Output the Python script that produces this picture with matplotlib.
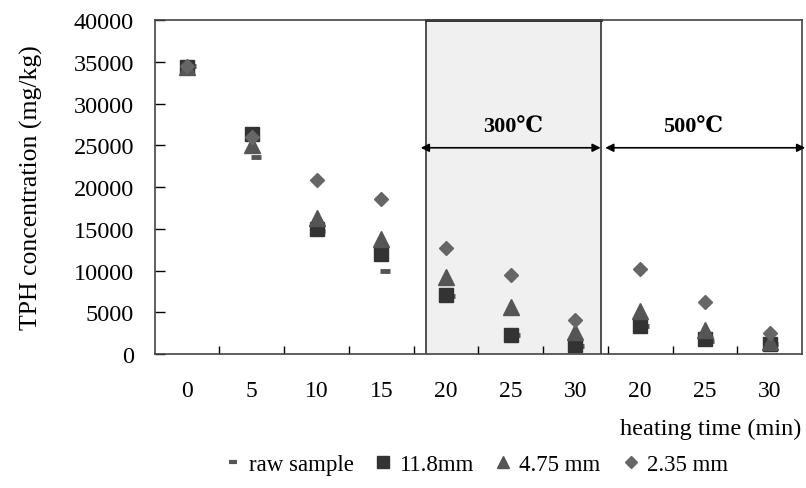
import numpy as np
import matplotlib.pyplot as plt
from matplotlib.lines import Line2D

plt.rcParams['font.family'] = ['Liberation Serif', 'DejaVu Serif']

# ---- data ----
tick_labels = ['0', '5', '10', '15', '20', '25', '30', '20', '25', '30']
raw_sample = [34500, 23600, 14700, 10000, 7000, 2300, 1000, 3400, 1600, 1200]
mm_11_8 = [34400, 26400, 15000, 12000, 7100, 2300, 1100, 3400, 1800, 1200]
mm_4_75 = [34400, 25000, 16300, 13800, 9200, 5600, 2600, 5200, 2900, 1400]
mm_2_35 = [34500, 26000, 20900, 18600, 12700, 9500, 4100, 10200, 6200, 2500]
zones = ['300℃', '500℃']

x = np.arange(len(tick_labels))

fig = plt.figure(figsize=(8.06, 4.89), dpi=100)
ax = fig.add_axes([0.192, 0.274, 0.803, 0.683])

# shaded 300C region
ax.axvspan(3.69, 6.39, color='#f0f0f0', zorder=0)
ax.axvline(3.69, color='#333333', lw=1.2, zorder=1)
ax.axvline(6.39, color='#333333', lw=1.2, zorder=1)
ax.plot([3.69, 6.39], [40000, 40000], color='#222222', lw=2, zorder=1, clip_on=False)

ax.plot(x + 0.06, raw_sample, ls='none', marker='_', ms=7, mew=3.5, color='#555555', zorder=3)
ax.plot(x, mm_11_8, ls='none', marker='s', ms=9.5, color='#333333', zorder=3)
ax.plot(x, mm_4_75, ls='none', marker='^', ms=11, color='#555555', zorder=3)
ax.plot(x, mm_2_35, ls='none', marker='D', ms=7, color='#666666', zorder=3)

# temperature zone arrows
arr = dict(arrowstyle='<|-|>', color='black', lw=1.2, mutation_scale=12, shrinkA=0, shrinkB=0)
ax.annotate('', xy=(3.61, 24700), xytext=(6.39, 24700), arrowprops=arr)
ax.annotate('', xy=(6.46, 24700), xytext=(9.55, 24700), arrowprops=arr, annotation_clip=False)
ax.text(5.04, 27200, zones[0], ha='center', va='center', fontsize=16, fontweight='bold')
ax.text(7.82, 27200, zones[1], ha='center', va='center', fontsize=16, fontweight='bold')

ax.set_xlim(-0.5, 9.5)
ax.set_ylim(0, 40000)
ax.set_yticks(np.arange(0, 40001, 5000))
ax.set_xticks(x)
ax.set_xticklabels(tick_labels)
ax.set_xticks(np.arange(0.5, 9, 1), minor=True)
ax.tick_params(axis='x', which='major', length=0, pad=19, labelsize=17)
ax.tick_params(axis='x', which='minor', direction='in', length=6, width=1)
ax.tick_params(axis='y', direction='in', length=7, width=1, pad=15, labelsize=17.5)
for s in ax.spines.values():
    s.set_color('#444444')
    s.set_linewidth(1.2)

ax.set_ylabel('TPH concentration (mg/kg)', fontsize=18.5, labelpad=22)
fig.text(0.994, 0.121, 'heating time (min)', ha='right', va='center', fontsize=17.5)

handles = [
    Line2D([], [], ls='none', marker='_', ms=6, mew=3, color='#555555'),
    Line2D([], [], ls='none', marker='s', ms=8, color='#333333'),
    Line2D([], [], ls='none', marker='^', ms=9, color='#555555'),
    Line2D([], [], ls='none', marker='D', ms=6, color='#666666'),
]
fig.legend(handles, ['raw sample', '11.8mm', '4.75 mm', '2.35 mm'], loc='center',
           bbox_to_anchor=(0.59, 0.048), ncol=4, frameon=False, fontsize=16.5,
           handlelength=0.8, handletextpad=0.3, columnspacing=0.9)

plt.savefig('out.png', dpi=100)
